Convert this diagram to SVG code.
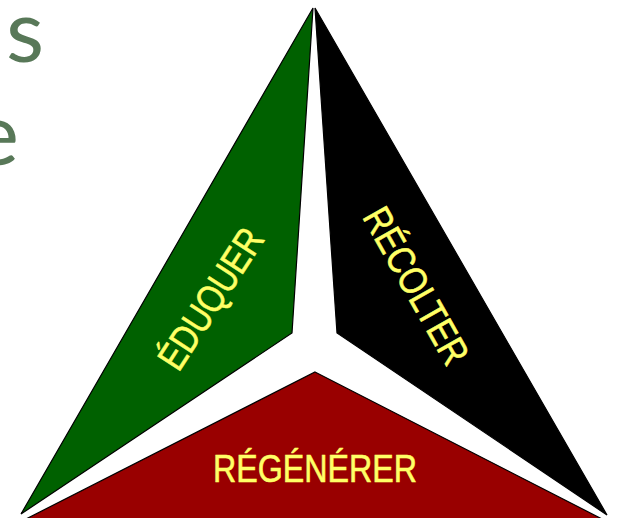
<svg xmlns="http://www.w3.org/2000/svg" width="617" height="518" viewBox="0 0 617 518">
<style>
.seg{stroke:#000;stroke-width:1.2;stroke-linejoin:miter}
.lbl{font-family:"Liberation Sans Narrow","Liberation Sans",Arial,sans-serif;font-size:39px;fill:#ffff66;stroke:#ffff66;stroke-width:0.6;text-anchor:middle}
.bg{font-family:Lato,"Open Sans","Liberation Sans",sans-serif;font-weight:400;font-size:88px;fill:#587858}
</style>
<rect width="617" height="518" fill="#fff"/>
<g id="bgtext">
<text class="bg" x="44" y="62" text-anchor="end">s</text>
<text class="bg" x="19" y="165" text-anchor="end">e</text>
</g>
<g id="connectors"></g>
<g id="eduquer">
<polygon class="seg" points="313,8 292,333 21,514" fill="#006100"/>
<text class="lbl" transform="translate(222,306) rotate(-57)" x="0" y="0" textLength="160" lengthAdjust="spacingAndGlyphs">ÉDUQUER</text>
</g>
<g id="recolter">
<polygon class="seg" points="315,8 337,333 607,515" fill="#000"/>
<text class="lbl" transform="translate(404.5,292.5) rotate(60.5)" x="0" y="0" textLength="174" lengthAdjust="spacingAndGlyphs">RÉCOLTER</text>
</g>
<g id="regenerer">
<polygon class="seg" points="315,372 604,520 24,520" fill="#990000"/>
<text class="lbl" x="315" y="482" textLength="204" lengthAdjust="spacingAndGlyphs">RÉGÉNÉRER</text>
</g>
</svg>
